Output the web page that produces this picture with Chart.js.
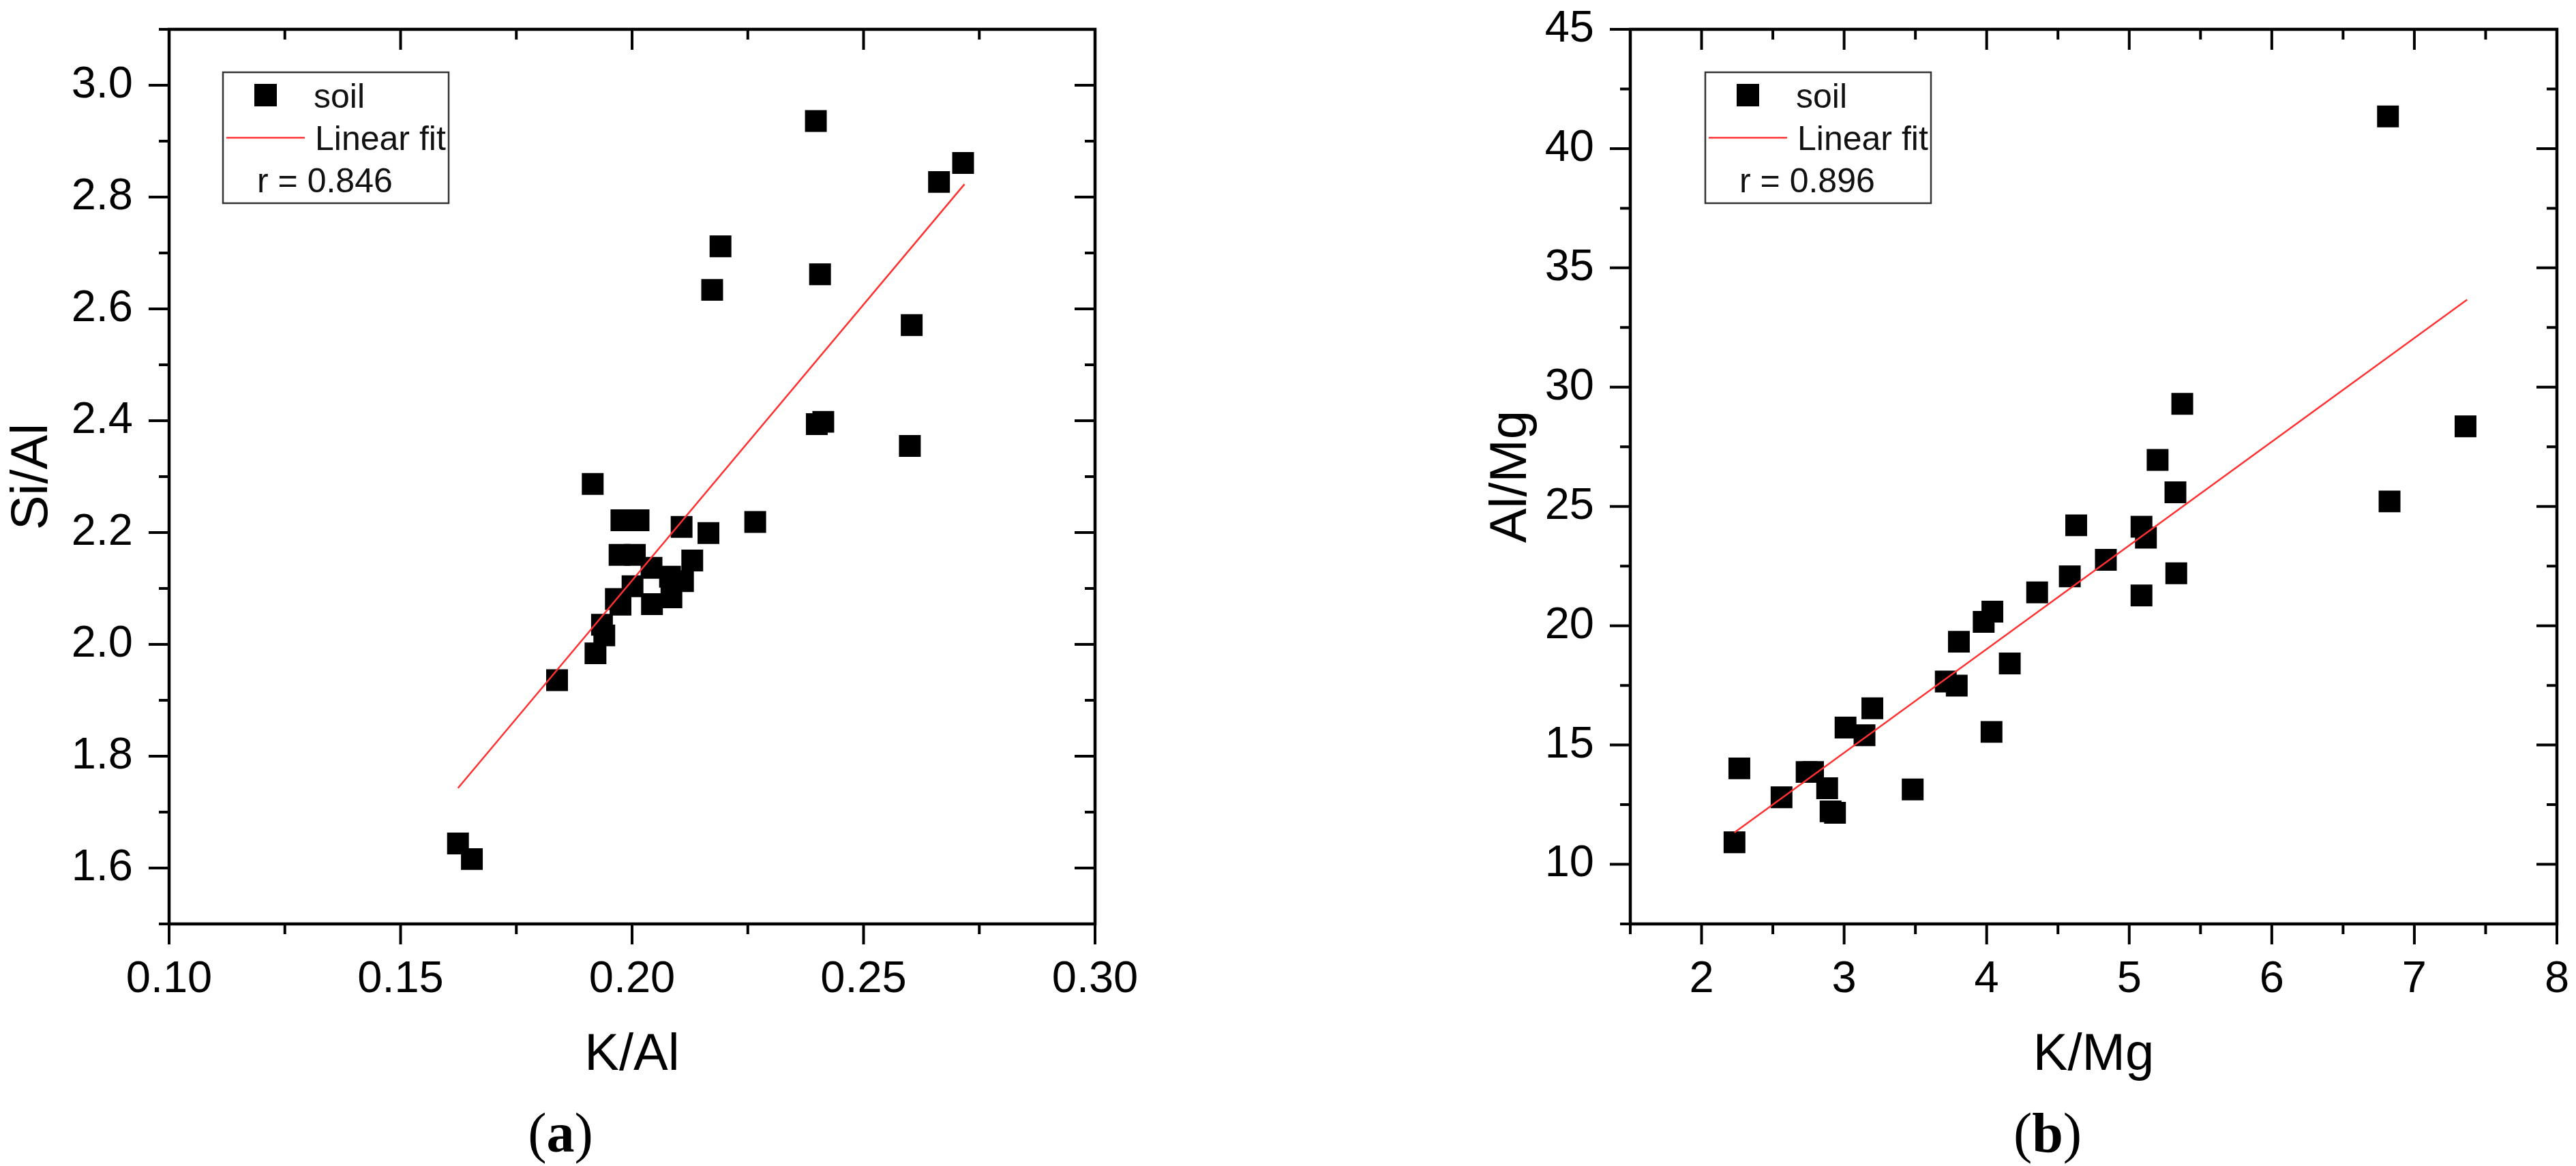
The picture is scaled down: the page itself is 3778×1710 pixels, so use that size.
<!DOCTYPE html>
<html>
<head>
<meta charset="utf-8">
<script src="https://cdn.jsdelivr.net/npm/chart.js@4"></script>
<style>
html, body { margin:0; padding:0; background:#fff; }
body { width:3778px; height:1710px; position:relative; overflow:hidden; }
canvas { position:absolute; top:0; }
#chartA { left:0; }
#chartB { left:1889px; }
.panel { position:absolute; top:1616px; font-family:'Liberation Serif', 'Times New Roman', serif; font-size:82px; line-height:92px; color:#000; transform:translateX(-50%); white-space:nowrap; }
</style>
</head>
<body>
<canvas id="chartA" width="1889" height="1710"></canvas>
<canvas id="chartB" width="1889" height="1710"></canvas>
<div class="panel" style="left:822px">(<b>a</b>)</div>
<div class="panel" style="left:3003px">(<b>b</b>)</div>
<script>
// (a) Si/Al vs K/Al
const kAl = [0.2397, 0.2715, 0.2663, 0.2191, 0.2173, 0.2406, 0.2604, 0.2399, 0.2413, 0.2600,
             0.1915, 0.1977, 0.2014, 0.2266, 0.2107, 0.2165, 0.1973, 0.2006, 0.2130, 0.2042,
             0.2082, 0.2110, 0.2043, 0.2085, 0.2001, 0.1965, 0.1975, 0.1935, 0.1940, 0.1921,
             0.1838, 0.1624, 0.1654];
const siAl = [2.936, 2.861, 2.827, 2.712, 2.634, 2.662, 2.571, 2.394, 2.398, 2.355,
              2.287, 2.222, 2.222, 2.219, 2.210, 2.199, 2.160, 2.160, 2.150, 2.137,
              2.121, 2.113, 2.072, 2.084, 2.104, 2.081, 2.071, 2.035, 2.016, 1.984,
              1.936, 1.644, 1.616];
const fitKAl = [0.1624, 0.2718];
const fitSiAl = [1.743, 2.823];
const rA = 'r = 0.846';

const xTicksA = [0.10, 0.15, 0.20, 0.25, 0.30];
const xMinorA = [0.125, 0.175, 0.225, 0.275];
const yTicksA = [1.6, 1.8, 2.0, 2.2, 2.4, 2.6, 2.8, 3.0];
const yMinorA = [1.5, 1.7, 1.9, 2.1, 2.3, 2.5, 2.7, 2.9, 3.1];

// (b) Al/Mg vs K/Mg
const kMg = [6.815, 5.372, 7.359, 5.199, 5.324, 6.826, 4.628, 5.086, 5.117, 4.836,
             4.583, 5.330, 4.354, 5.086, 4.040, 3.979, 3.805, 4.162, 3.713, 3.790,
             3.198, 3.010, 3.143, 4.034, 2.265, 2.737, 2.782, 2.881, 3.481, 2.561,
             2.905, 2.936, 2.231];
const alMg = [41.35, 29.30, 28.36, 26.95, 25.59, 25.21, 24.21, 24.15, 23.69, 22.76,
              22.07, 22.20, 21.40, 21.27, 20.59, 20.16, 19.33, 18.42, 17.66, 17.49,
              16.54, 15.73, 15.41, 15.55, 14.02, 13.87, 13.87, 13.19, 13.14, 12.81,
              12.22, 12.16, 10.92];
const fitKMg = [2.23, 7.37];
const fitAlMg = [11.33, 33.67];
const rB = 'r = 0.896';

const xTicksB = [2, 3, 4, 5, 6, 7, 8];
const xMinorB = [1.5, 2.5, 3.5, 4.5, 5.5, 6.5, 7.5];
const yTicksB = [10, 15, 20, 25, 30, 35, 40, 45];
const yMinorB = [7.5, 12.5, 17.5, 22.5, 27.5, 32.5, 37.5, 42.5];

const FONT = '"Liberation Sans", Arial, sans-serif';

const toPoints = (xs, ys) => xs.map((v, i) => ({x: v, y: ys[i]}));

// no extra room for edge labels, the frame is placed by hand
function fixBox(s, w, h) {
    if (w !== undefined) s.width = w;
    if (h !== undefined) s.height = h;
    s.paddingTop = 0; s.paddingBottom = 0;
    s.paddingLeft = 0; s.paddingRight = 0;
}

// box frame with mirrored ticks + legend box inside the plot
const frameTicks = {
    id: 'frameTicks',
    afterDraw(chart, args, opts) {
        const {ctx, chartArea: a, scales: {x, y}} = chart;
        ctx.save();
        ctx.strokeStyle = '#000';
        ctx.lineWidth = 4;
        ctx.beginPath();
        const xt = (vals, len) => vals.forEach(v => {
            const p = x.getPixelForValue(v);
            ctx.moveTo(p, a.bottom); ctx.lineTo(p, a.bottom + len);
            ctx.moveTo(p, a.top); ctx.lineTo(p, a.top + len);
        });
        const yt = (vals, len) => vals.forEach(v => {
            const p = y.getPixelForValue(v);
            ctx.moveTo(a.left, p); ctx.lineTo(a.left - len, p);
            ctx.moveTo(a.right, p); ctx.lineTo(a.right - len, p);
        });
        xt(opts.xMajor, 30); xt(opts.xMinor, 15);
        yt(opts.yMajor, 30); yt(opts.yMinor, 15);
        ctx.stroke();
        ctx.lineWidth = 4.5;
        ctx.strokeRect(a.left, a.top, a.right - a.left, a.bottom - a.top);

        // legend
        const fit = chart.data.datasets[0], soil = chart.data.datasets[1];
        const bx = a.left + opts.legendLeft, by = a.top + 63;
        ctx.fillStyle = '#fff';
        ctx.fillRect(bx, by, 331, 192);
        ctx.lineWidth = 2.5;
        ctx.strokeStyle = '#333';
        ctx.strokeRect(bx, by, 331, 192);
        ctx.fillStyle = soil.backgroundColor;
        ctx.fillRect(bx + 46, by + 17, 33, 33);
        ctx.strokeStyle = fit.borderColor;
        ctx.lineWidth = fit.borderWidth;
        ctx.beginPath();
        ctx.moveTo(bx + 5, by + 96); ctx.lineTo(bx + 120, by + 96);
        ctx.stroke();
        ctx.fillStyle = '#111';
        ctx.font = '50px ' + FONT;
        ctx.textBaseline = 'alphabetic';
        ctx.textAlign = 'left';
        ctx.fillText(soil.label, bx + 133, by + 52);
        ctx.fillText(fit.label, bx + 135, by + 114);
        ctx.fillText(opts.rText, bx + 50, by + 176);
        ctx.restore();
    }
};

function makeChart(id, c) {
    return new Chart(document.getElementById(id), {
        type: 'scatter',
        data: {
            datasets: [
                {label: 'Linear fit', data: toPoints(c.fitX, c.fitY), showLine: true, borderColor: '#ff3030',
                 borderWidth: 2.5, pointRadius: 0, fill: false, order: 0},
                {label: 'soil', data: toPoints(c.xs, c.ys), pointStyle: 'rect', pointRadius: 22.6,
                 backgroundColor: '#000', borderWidth: 0, order: 1}
            ]
        },
        options: {
            responsive: false,
            animation: false,
            events: [],
            layout: {padding: {top: 43, right: c.padRight, left: 0, bottom: 0}},
            plugins: {
                legend: {display: false},
                tooltip: {enabled: false},
                frameTicks: {xMajor: c.xTicks, xMinor: c.xMinor, yMajor: c.yTicks, yMinor: c.yMinor,
                             legendLeft: c.legendLeft, rText: c.rText}
            },
            scales: {
                x: {
                    type: 'linear', min: c.xMin, max: c.xMax,
                    afterBuildTicks: s => { s.ticks = c.xTicks.map(v => ({value: v})); },
                    afterFit: s => fixBox(s, undefined, 355),
                    grid: {display: false, drawTicks: false},
                    border: {display: false},
                    ticks: {padding: 43, color: '#000', autoSkip: false, maxRotation: 0,
                            font: {family: FONT, size: 65}, callback: c.xFmt},
                    title: {display: true, text: c.xTitle, color: '#000',
                            font: {family: FONT, size: 76}, padding: {top: 0, bottom: 116}}
                },
                y: {
                    type: 'linear', min: c.yMin, max: c.yMax,
                    afterBuildTicks: s => { s.ticks = c.yTicks.map(v => ({value: v})); },
                    afterFit: s => fixBox(s, c.yWidth),
                    grid: {display: false, drawTicks: false},
                    border: {display: false},
                    ticks: {padding: c.yPad, color: '#000', autoSkip: false,
                            font: {family: FONT, size: 65}, callback: c.yFmt},
                    title: {display: true, text: c.yTitle, color: '#000',
                            font: {family: FONT, size: 76}, padding: {top: c.yTitlePad, bottom: 0}}
                }
            }
        },
        plugins: [frameTicks]
    });
}

makeChart('chartA', {
    xs: kAl, ys: siAl, fitX: fitKAl, fitY: fitSiAl, rText: rA,
    xMin: 0.10, xMax: 0.30, yMin: 1.5, yMax: 3.1,
    xTicks: xTicksA, xMinor: xMinorA, yTicks: yTicksA, yMinor: yMinorA,
    xFmt: v => v.toFixed(2), yFmt: v => v.toFixed(1),
    xTitle: 'K/Al', yTitle: 'Si/Al',
    padRight: 283, yWidth: 248, yPad: 53, yTitlePad: 2, legendLeft: 79
});

makeChart('chartB', {
    xs: kMg, ys: alMg, fitX: fitKMg, fitY: fitAlMg, rText: rB,
    xMin: 1.5, xMax: 8, yMin: 7.5, yMax: 45,
    xTicks: xTicksB, xMinor: xMinorB, yTicks: yTicksB, yMinor: yMinorB,
    xFmt: v => String(v), yFmt: v => String(v),
    xTitle: 'K/Mg', yTitle: 'Al/Mg',
    padRight: 28, yWidth: 502, yPad: 53, yTitlePad: 282, legendLeft: 110
});
</script>
</body>
</html>
